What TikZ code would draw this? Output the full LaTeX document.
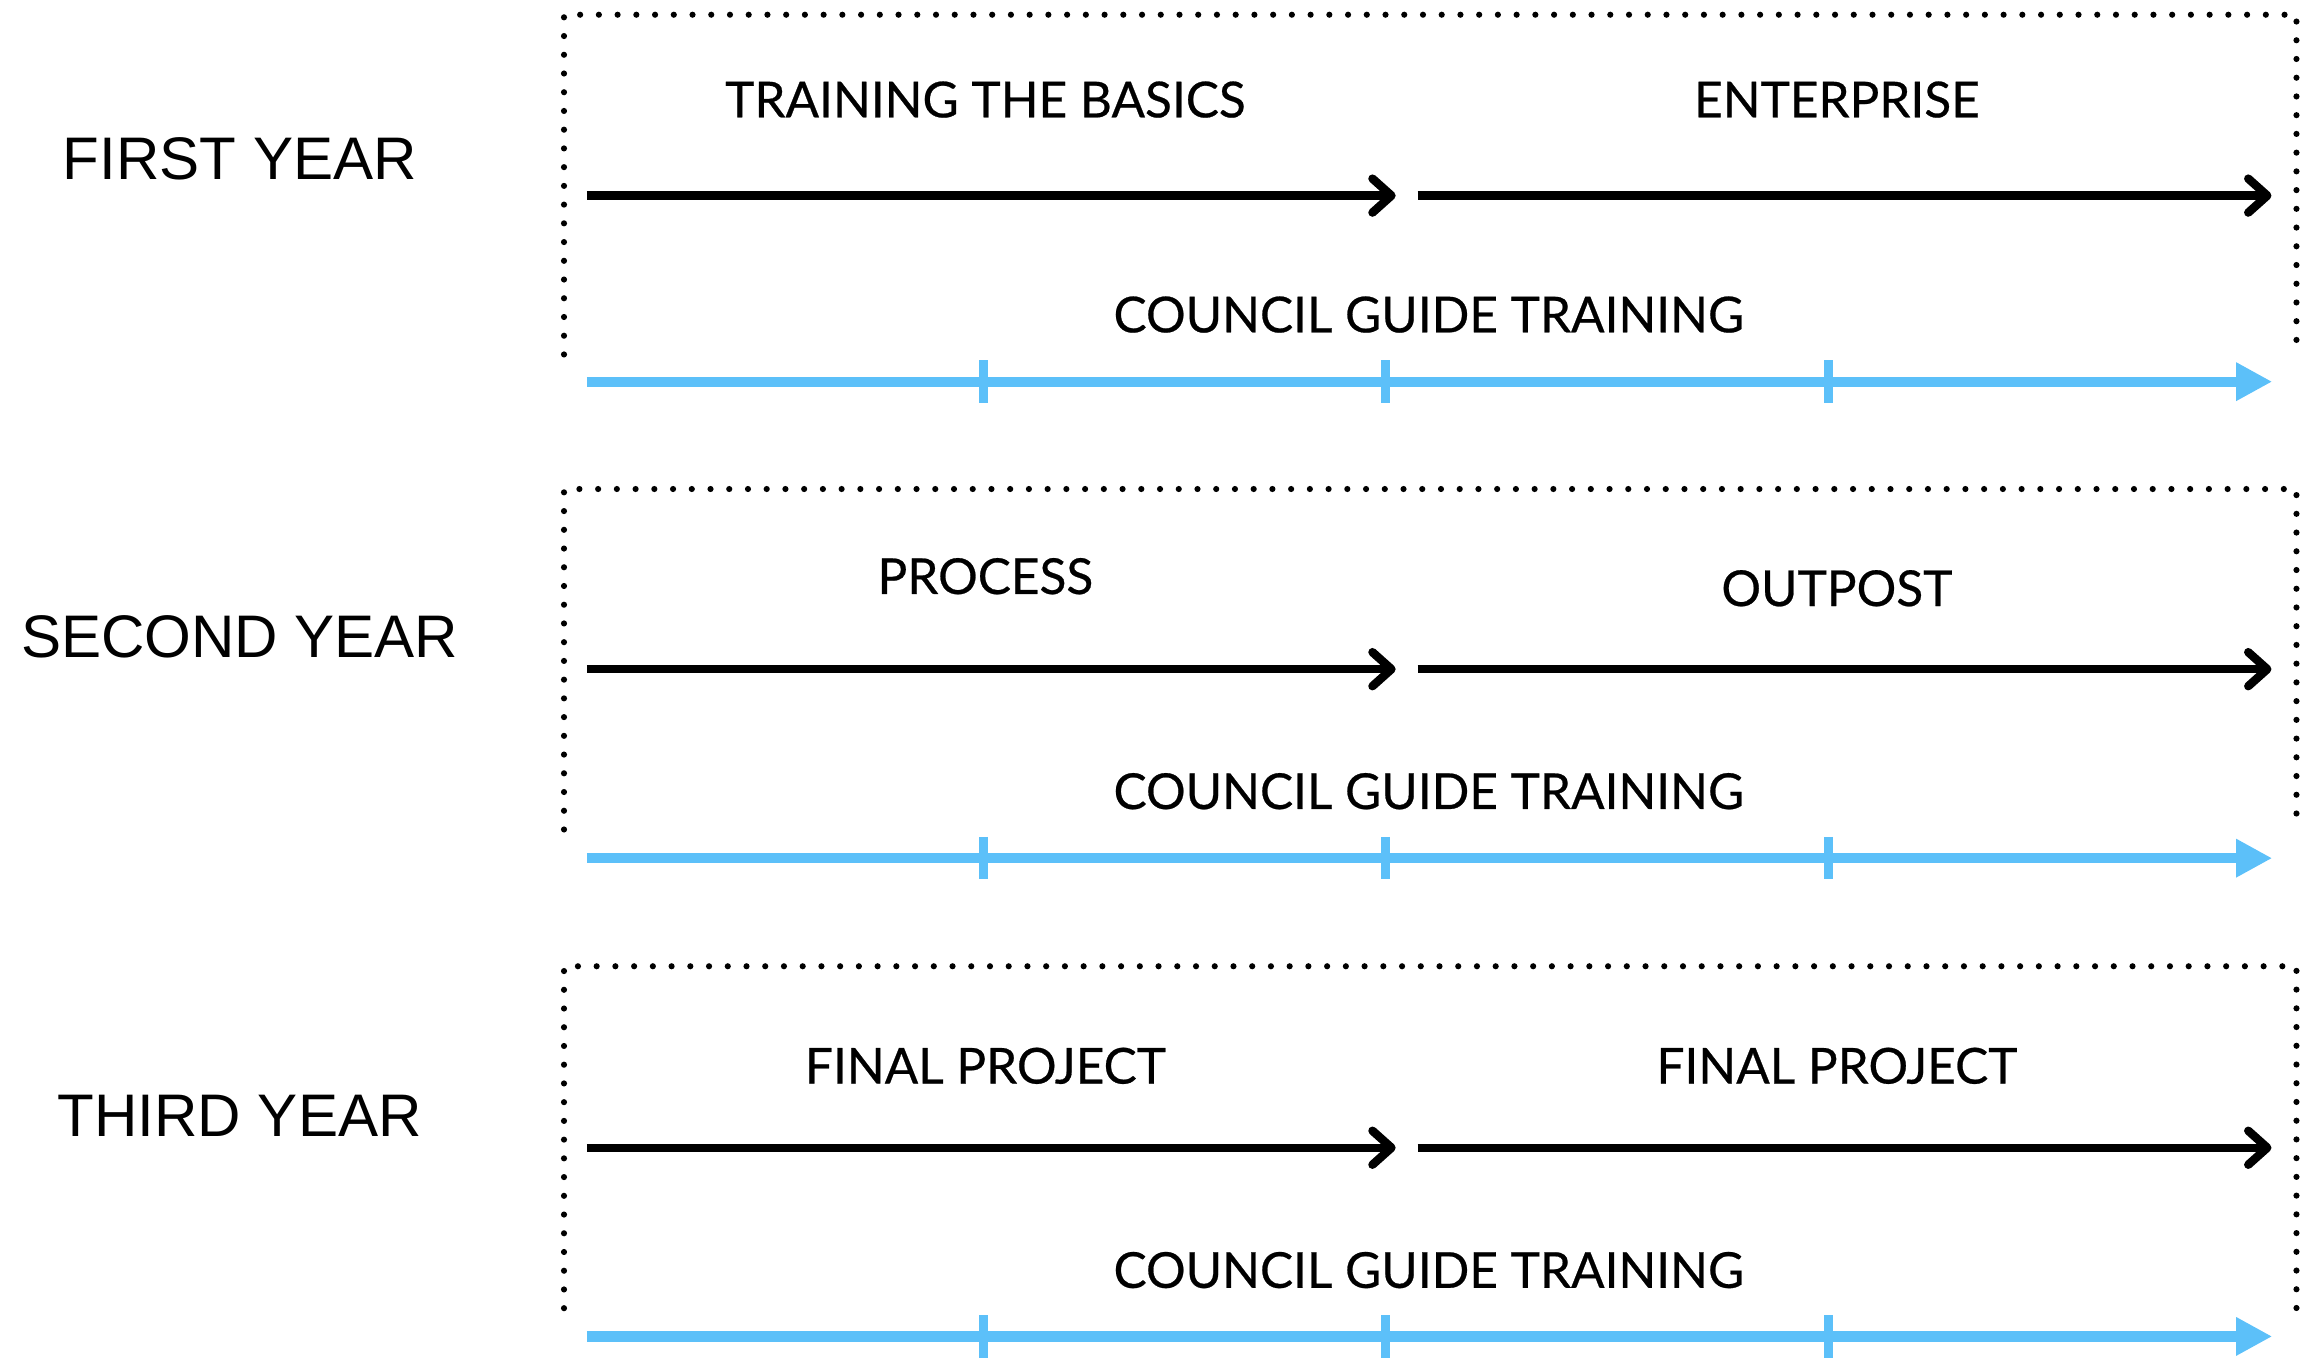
\documentclass[tikz,border=0pt]{standalone}
\usepackage{fontspec}
\setmainfont{Liberation Sans}
\newfontfamily\latofont[FakeBold=0.5]{Lato}
\usetikzlibrary{arrows.meta}
\definecolor{tlblue}{RGB}{92,192,249}
\tikzset{
  yearlabel/.style={font=\fontsize{17.1}{20}\selectfont, inner sep=0pt},
  phaselabel/.style={font=\latofont\fontsize{14.1}{17}\selectfont, inner sep=0pt},
  dotbox/.style={line width=1.75pt, dash pattern=on 0pt off 5.33pt, line cap=round},
  phasearrow/.style={line width=2.4pt, -{Straight Barb[length=0.19cm,width=0.34cm,line join=round,line cap=round]}},
  guideline/.style={tlblue, line width=2.9pt, -{Triangle[length=0.36cm,width=0.36cm]}},
  guidetick/.style={tlblue, line width=2.6pt}
}
\begin{document}
\begin{tikzpicture}[x=0.014707cm,y=-0.014707cm]
\useasboundingbox (0,0) rectangle (1568,924);
\foreach \r/\top/\sb/\la/\lb/\ar/\co/\bl/\yr/\yname/\ta/\tb in {
  1/10/241/67.7/67.7/133/213.9/259.5/108/FIRST YEAR/TRAINING THE BASICS/ENTERPRISE,
  2/332.5/564/391.8/400/455/538/583.5/433/SECOND YEAR/PROCESS/OUTPOST,
  3/657/889.5/724.7/724.7/780.4/863.6/908.7/759/THIRD YEAR/FINAL PROJECT/FINAL PROJECT}
{
  \node[yearlabel] (year\r) at (163,\yr) {\yname};
  % dotted frame (open at the bottom)
  \coordinate (bl\r) at (383.5,\sb);
  \coordinate (tl\r) at (383.5,\top);
  \coordinate (tr\r) at (1561.5,\top);
  \coordinate (br\r) at (1561.5,\sb);
  \draw[dotbox] (bl\r) -- (tl\r) -- (tr\r) -- (br\r);
  % phase labels
  \node[phaselabel] (pa\r) at (670,\la) {\ta};
  \node[phaselabel] (pb\r) at (1249,\lb) {\tb};
  % phase arrows
  \coordinate (as\r) at (399,\ar);
  \coordinate (am\r) at (949,\ar);
  \coordinate (an\r) at (964,\ar);
  \coordinate (ae\r) at (1544.5,\ar);
  \draw[phasearrow] (as\r) -- (am\r);
  \draw[phasearrow] (an\r) -- (ae\r);
  % council guide training
  \node[phaselabel] (cg\r) at (971.5,\co) {COUNCIL GUIDE TRAINING};
  \coordinate (gs\r) at (399,\bl);
  \coordinate (ge\r) at (1545,\bl);
  \draw[guideline] (gs\r) -- (ge\r);
  \foreach \k/\tx in {1/669,2/942,3/1243}{
    \coordinate (tt\r\k) at (\tx,\bl-14.5);
    \coordinate (tb\r\k) at (\tx,\bl+14.5);
    \draw[guidetick] (tt\r\k) -- (tb\r\k);
  }
}
\end{tikzpicture}
\end{document}
